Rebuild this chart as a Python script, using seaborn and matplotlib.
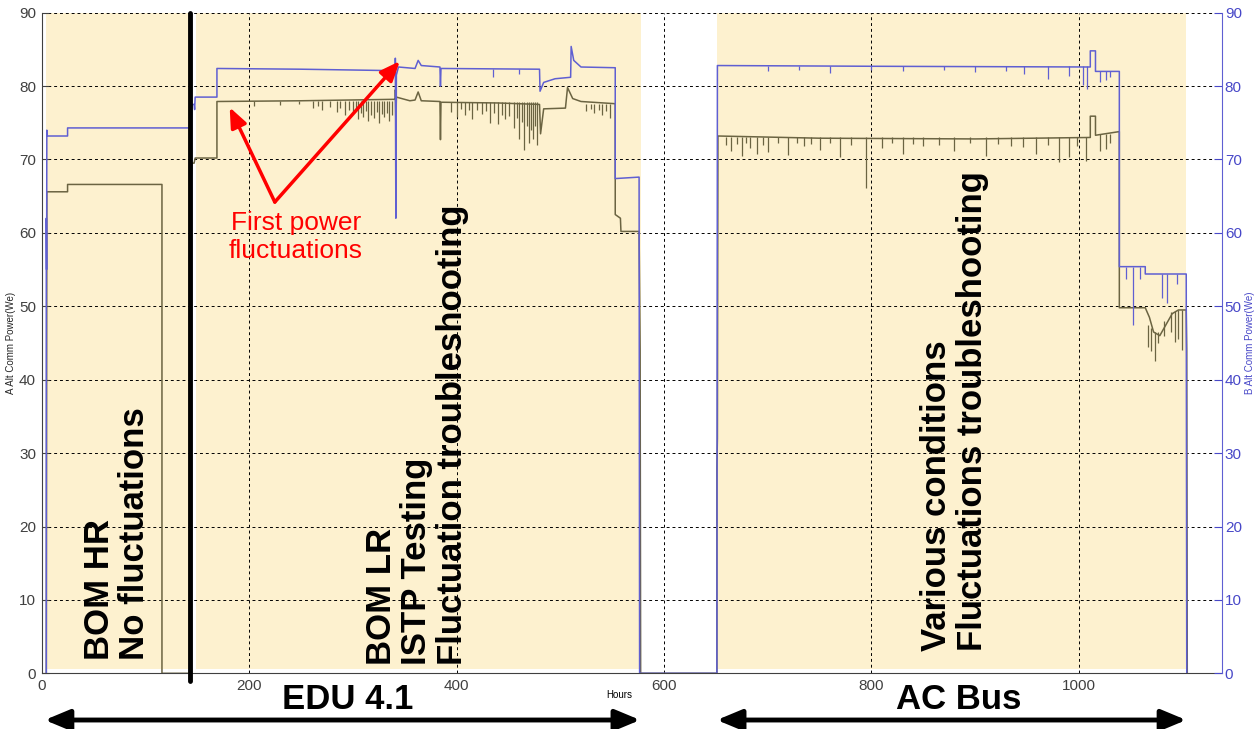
import pandas as pd
import matplotlib.pyplot as plt
import seaborn as sns

# --- data (hours vs. Alt Comm power in We) ---
a_hours = [4.5, 5, 25, 25, 116, 116, 143, 144, 145, 147, 148, 169, 169, 250, 341, 341, 341.5, 342, 355, 360, 363,
           366, 384, 384.5, 385, 440, 480, 481, 484, 505, 507, 512, 520, 553, 553, 558, 558.5, 576, 577, 577.5,
           651, 651, 651.5, 652, 750, 900, 1011, 1011, 1016, 1016, 1039, 1039, 1064, 1068, 1072, 1078, 1084,
           1090, 1096, 1103.5, 1104, 1104.5]
a_power = [0, 65.6, 65.6, 66.6, 66.6, 0, 0, 67, 69.5, 69.5, 70.2, 70.2, 77.9, 78.0, 78.2, 79.5, 75.0, 78.5, 78.0,
           78.1, 79.2, 78.0, 77.9, 72.7, 77.8, 77.7, 77.5, 73.5, 76.9, 77.0, 79.8, 78.3, 77.9, 77.6, 62.5, 62.0,
           60.2, 60.2, 44, 0,
           0, 28, 32, 73.2, 72.9, 72.8, 73.0, 75.9, 75.9, 73.3, 73.8, 49.8, 49.8, 48.5, 46.5, 46.0, 47.5,
           49.0, 49.5, 49.5, 44, 0]

b_hours = [4.5, 4.5, 4.8, 5, 5.5, 25, 25, 144, 145, 147, 147.5, 148, 169, 169, 250, 341, 341, 341.5, 342, 344,
           360, 363, 366, 384, 384.5, 385, 480, 480.5, 484, 495, 510, 510.5, 513, 520, 553, 553, 576, 576.5,
           651, 651.5, 800, 1011, 1011, 1016, 1016, 1039, 1039, 1064, 1064, 1103.5, 1104]
b_power = [0, 62, 55, 74, 73.2, 73.2, 74.3, 74.3, 77.5, 77.5, 76.8, 78.5, 78.5, 82.4, 82.3, 82.1, 83.8, 62, 81.5,
           82.6, 82.4, 83.5, 82.8, 82.6, 80.0, 82.4, 82.3, 79.3, 80.5, 81.0, 81.2, 85.4, 83.5, 82.6, 82.5,
           67.4, 67.6, 0,
           0, 82.8, 82.7, 82.6, 84.8, 84.8, 82.0, 82.0, 55.4, 55.4, 54.4, 54.4, 0]

# short downward spikes (hour, low, level)
a_dip_hours = [205, 230, 248, 262, 266, 270, 278, 285, 288, 292, 296, 300, 303, 305, 308, 310, 313, 315, 318,
               320, 323, 325, 328, 330, 333, 335, 338,
               395, 400, 404, 408, 412, 415, 420, 425, 428, 432, 436, 440, 444, 447, 451, 455, 458, 460, 463,
               465, 468, 470, 472, 474, 476, 478,
               525, 530, 533, 537, 540, 544, 548,
               660, 665, 670, 675, 679, 683, 690, 695, 700, 710, 720, 728, 735, 742, 750, 760, 770, 780, 795,
               810, 820, 830, 840, 850, 865, 880, 895, 910, 922, 935, 946, 959, 970, 981, 990, 998, 1007,
               1020, 1026, 1030,
               1067, 1070, 1073, 1076, 1082, 1089, 1093, 1096, 1099]
a_dip_low = [77.3, 77.4, 77.5, 77.0, 77.3, 76.8, 77.2, 76.5, 77.0, 76.0, 76.8, 76.3, 76.9, 75.5, 76.4, 75.8, 76.6,
             75.2, 76.1, 75.6, 76.5, 75.0, 76.2, 75.8, 76.4, 75.3, 76.0,
             76.5, 75.8, 76.9, 76.0, 76.8, 75.5, 76.7, 76.2, 76.6, 75.0, 76.3, 74.8, 76.0, 75.5, 75.9, 74.3,
             75.6, 72.8, 75.1, 71.3, 74.6, 72.3, 74.0, 72.8, 74.5, 72.0,
             76.6, 76.9, 76.3, 76.8, 76.0, 76.6, 75.7,
             72.0, 71.2, 72.1, 70.5, 72.2, 71.5, 70.8, 72.0, 71.0, 72.2, 70.6, 72.3, 71.8, 72.1, 71.3, 72.2,
             70.3, 72.0, 66.1, 71.5, 72.3, 70.8, 72.1, 71.9, 72.0, 71.2, 72.2, 70.5, 72.1, 71.8, 71.7, 70.7,
             72.0, 69.6, 70.3, 71.9, 69.8,
             71.1, 71.4, 72.2,
             44.5, 43.9, 42.5, 45.0, 46.0, 46.5, 45.2, 45.5, 44.0]
a_dip_top = [78.0] * 27 + [77.8] * 26 + [77.6] * 7 + [73.0] * 37 + [73.5] * 3 + [47.5, 47.0, 46.5, 46.5,
                                                                               48.0, 49.2, 49.4, 49.5, 49.5]

b_dip_hours = [435, 460, 700, 730, 760, 800, 830, 870, 900, 930, 947, 970, 990, 1004, 1008, 1020, 1026, 1030,
               1045, 1052, 1059, 1080, 1085, 1095]
b_dip_low = [81.2, 81.6, 82.0, 82.2, 81.8, 82.2, 82.0, 82.2, 81.9, 82.1, 81.6, 81.0, 81.4, 80.2, 79.6, 80.5,
             80.8, 81.2, 53.7, 47.5, 53.7, 51.1, 50.4, 53.0]
b_dip_top = [82.3] * 2 + [82.7] * 13 + [82.0] * 3 + [55.4] * 3 + [54.4] * 3

test_spans = [(4.5, 141.8), (149, 577.5), (651, 1103.5)]
divider_hour = 142.8

x_ticks = [0, 200, 400, 600, 800, 1000]
y_ticks = [0, 10, 20, 30, 40, 50, 60, 70, 80, 90]

phase_labels = ['BOM HR\nNo fluctuations',
                'BOM LR\nISTP Testing\nFluctuation troubleshooting',
                'Various conditions\nFluctuations troubleshooting']
phase_hours = [39.5, 311.5, 847]
phase_bottom = [1.8, 1.1, 3.0]

df_a = pd.DataFrame({'hours': a_hours, 'power': a_power})
df_b = pd.DataFrame({'hours': b_hours, 'power': b_power})

# --- style ---
sns.set_style('white')
plt.rcParams['font.family'] = ['Liberation Sans', 'DejaVu Sans']
plt.rcParams['text.color'] = 'black'

a_color = '#6b6442'
b_color = '#5f5fd2'
beige = '#fdf1cf'

fig = plt.figure(figsize=(12.58, 7.29), dpi=100)
ax = fig.add_axes([0.0331, 0.0764, 0.9383, 0.9062])
ax2 = ax.twinx()

for start, end in test_spans:
    ax.axvspan(start, end, ymin=0.007, ymax=1, color=beige, lw=0, zorder=1)

sns.lineplot(data=df_a, x='hours', y='power', ax=ax, sort=False, estimator=None, color=a_color, lw=1.1)
ax.vlines(a_dip_hours, a_dip_low, a_dip_top, color=a_color, lw=0.9)
sns.lineplot(data=df_b, x='hours', y='power', ax=ax, sort=False, estimator=None, color=b_color, lw=1.1)
ax.vlines(b_dip_hours, b_dip_low, b_dip_top, color=b_color, lw=0.9)

ax.plot([divider_hour, divider_hour], [-1, 90], color='k', lw=3.5, clip_on=False, zorder=5)

ax.set_xlim(0, 1138)
ax.set_ylim(0, 90)
ax2.set_ylim(0, 90)
ax.set_xticks(x_ticks)
ax.set_yticks(y_ticks)
ax2.set_yticks(y_ticks)

ax.set_axisbelow('line')
ax.grid(True, color='k', ls=(0, (3, 3)), lw=0.7)

for s in ['top', 'right']:
    ax.spines[s].set_visible(False)
for s in ['top', 'left', 'bottom']:
    ax2.spines[s].set_visible(False)
ax.spines['left'].set_color('#404040')
ax.spines['bottom'].set_color('#404040')
ax.spines['bottom'].set_zorder(3)
ax2.spines['right'].set_color(b_color)

ax.tick_params(direction='in', length=5, labelsize=11, colors='#404040', pad=4)
ax2.tick_params(axis='y', direction='in', length=6, labelsize=11, colors='#4848c8', pad=2)

ax.set_xlabel('')
ax.set_ylabel('A Alt Comm Power(We)', fontsize=7)
ax.yaxis.set_label_coords(-0.0215, 0.5)
ax2.set_ylabel('B Alt Comm Power(We)', fontsize=7, color='#4848c8')
ax2.yaxis.set_label_coords(1.0195, 0.5)
ax.text(557, -0.033, 'Hours', transform=ax.get_xaxis_transform(), ha='center', va='center', fontsize=7)

for label, h, b in zip(phase_labels, phase_hours, phase_bottom):
    ax2.text(h, b, label, rotation=90, ha='left', va='bottom', fontsize=25, fontweight='bold',
             linespacing=1.1, zorder=6)

# red callout
ax2.text(245, 59.4, 'First power\nfluctuations', color='red', fontsize=19, ha='center', va='center',
         linespacing=1.2)
for target in [(181.3, 77.1), (345.3, 83.4)]:
    ax2.annotate('', xy=target, xytext=(224.8, 64.2),
                 arrowprops=dict(arrowstyle='-|>,head_length=0.6,head_width=0.25', color='red', lw=2.5,
                                 mutation_scale=20, shrinkA=0, shrinkB=0))

# section arrows under the axis
xtr = ax.get_xaxis_transform()
for (start, end), name, mid in zip([(3, 577), (651, 1103.5)], ['EDU 4.1', 'AC Bus'], [295, 884.5]):
    ax.annotate('', xy=(end, -0.0707), xytext=(start, -0.0707), xycoords=xtr, textcoords=xtr,
                annotation_clip=False,
                arrowprops=dict(arrowstyle='<|-|>,head_length=0.6,head_width=0.25', color='k', lw=3.5,
                                mutation_scale=25, shrinkA=0, shrinkB=0))
    ax.text(mid, -0.0404, name, transform=xtr, ha='center', va='center', fontsize=25, fontweight='bold')

fig.savefig('out.png', dpi=100)
